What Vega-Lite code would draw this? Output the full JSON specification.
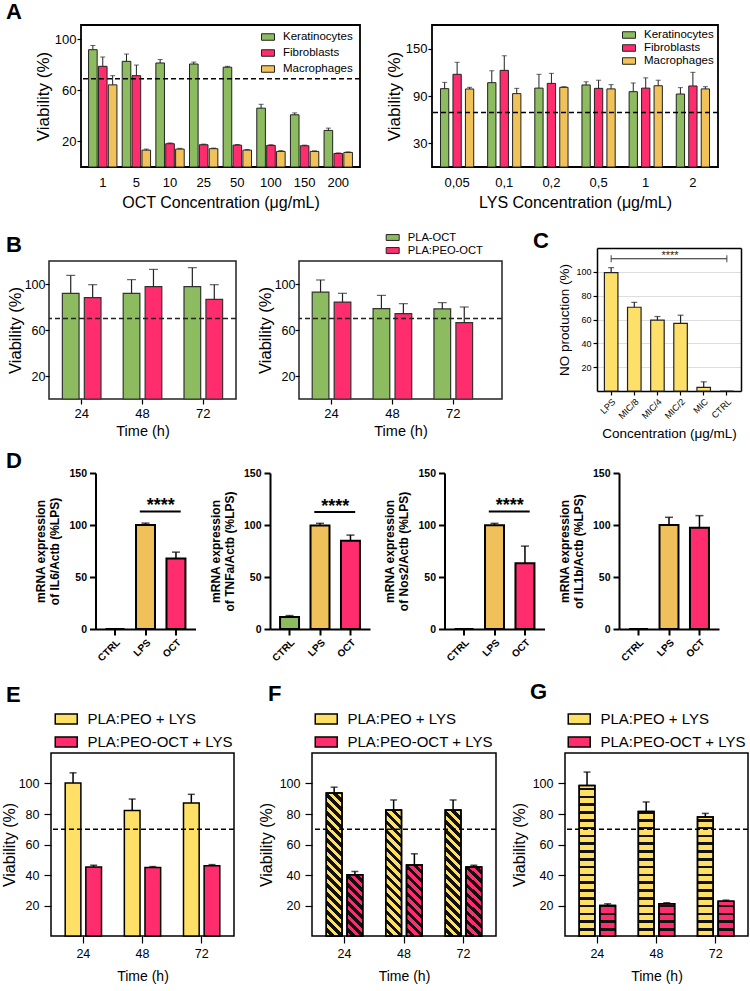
{
"$schema":"https://vega.github.io/schema/vega-lite/v6.json",
"background":"white",
"padding":{"left":0,"top":0,"right":0,"bottom":0},
"autosize":{"type":"pad"},
"spacing":0,
"resolve":{"scale":{"fill":"independent","xOffset":"independent"},"legend":{"fill":"independent"}},
"params":[
{"name":"stF","value":[{"offset":0,"color":"rgba(0,0,0,0)"},{"offset":0.028125,"color":"rgba(0,0,0,0)"},{"offset":0.028125,"color":"#111111"},{"offset":0.05625,"color":"#111111"},{"offset":0.05625,"color":"rgba(0,0,0,0)"},{"offset":0.084375,"color":"rgba(0,0,0,0)"},{"offset":0.084375,"color":"#111111"},{"offset":0.1125,"color":"#111111"},{"offset":0.1125,"color":"rgba(0,0,0,0)"},{"offset":0.140625,"color":"rgba(0,0,0,0)"},{"offset":0.140625,"color":"#111111"},{"offset":0.16875,"color":"#111111"},{"offset":0.16875,"color":"rgba(0,0,0,0)"},{"offset":0.196875,"color":"rgba(0,0,0,0)"},{"offset":0.196875,"color":"#111111"},{"offset":0.225,"color":"#111111"},{"offset":0.225,"color":"rgba(0,0,0,0)"},{"offset":0.253125,"color":"rgba(0,0,0,0)"},{"offset":0.253125,"color":"#111111"},{"offset":0.28125,"color":"#111111"},{"offset":0.28125,"color":"rgba(0,0,0,0)"},{"offset":0.309375,"color":"rgba(0,0,0,0)"},{"offset":0.309375,"color":"#111111"},{"offset":0.3375,"color":"#111111"},{"offset":0.3375,"color":"rgba(0,0,0,0)"},{"offset":0.365625,"color":"rgba(0,0,0,0)"},{"offset":0.365625,"color":"#111111"},{"offset":0.39375,"color":"#111111"},{"offset":0.39375,"color":"rgba(0,0,0,0)"},{"offset":0.421875,"color":"rgba(0,0,0,0)"},{"offset":0.421875,"color":"#111111"},{"offset":0.45,"color":"#111111"},{"offset":0.45,"color":"rgba(0,0,0,0)"},{"offset":0.478125,"color":"rgba(0,0,0,0)"},{"offset":0.478125,"color":"#111111"},{"offset":0.50625,"color":"#111111"},{"offset":0.50625,"color":"rgba(0,0,0,0)"},{"offset":0.534375,"color":"rgba(0,0,0,0)"},{"offset":0.534375,"color":"#111111"},{"offset":0.5625,"color":"#111111"},{"offset":0.5625,"color":"rgba(0,0,0,0)"},{"offset":0.590625,"color":"rgba(0,0,0,0)"},{"offset":0.590625,"color":"#111111"},{"offset":0.61875,"color":"#111111"},{"offset":0.61875,"color":"rgba(0,0,0,0)"},{"offset":0.646875,"color":"rgba(0,0,0,0)"},{"offset":0.646875,"color":"#111111"},{"offset":0.675,"color":"#111111"},{"offset":0.675,"color":"rgba(0,0,0,0)"},{"offset":0.703125,"color":"rgba(0,0,0,0)"},{"offset":0.703125,"color":"#111111"},{"offset":0.73125,"color":"#111111"},{"offset":0.73125,"color":"rgba(0,0,0,0)"},{"offset":0.759375,"color":"rgba(0,0,0,0)"},{"offset":0.759375,"color":"#111111"},{"offset":0.7875,"color":"#111111"},{"offset":0.7875,"color":"rgba(0,0,0,0)"},{"offset":0.815625,"color":"rgba(0,0,0,0)"},{"offset":0.815625,"color":"#111111"},{"offset":0.84375,"color":"#111111"},{"offset":0.84375,"color":"rgba(0,0,0,0)"},{"offset":0.871875,"color":"rgba(0,0,0,0)"},{"offset":0.871875,"color":"#111111"},{"offset":0.9,"color":"#111111"},{"offset":0.9,"color":"rgba(0,0,0,0)"},{"offset":0.928125,"color":"rgba(0,0,0,0)"},{"offset":0.928125,"color":"#111111"},{"offset":0.95625,"color":"#111111"},{"offset":0.95625,"color":"rgba(0,0,0,0)"},{"offset":0.984375,"color":"rgba(0,0,0,0)"},{"offset":0.984375,"color":"#111111"},{"offset":1,"color":"#111111"}]},
{"name":"stG","value":[{"offset":0,"color":"rgba(0,0,0,0)"},{"offset":0.0325,"color":"rgba(0,0,0,0)"},{"offset":0.0325,"color":"#111111"},{"offset":0.04875,"color":"#111111"},{"offset":0.04875,"color":"rgba(0,0,0,0)"},{"offset":0.08125,"color":"rgba(0,0,0,0)"},{"offset":0.08125,"color":"#111111"},{"offset":0.0975,"color":"#111111"},{"offset":0.0975,"color":"rgba(0,0,0,0)"},{"offset":0.13,"color":"rgba(0,0,0,0)"},{"offset":0.13,"color":"#111111"},{"offset":0.14625,"color":"#111111"},{"offset":0.14625,"color":"rgba(0,0,0,0)"},{"offset":0.17875,"color":"rgba(0,0,0,0)"},{"offset":0.17875,"color":"#111111"},{"offset":0.195,"color":"#111111"},{"offset":0.195,"color":"rgba(0,0,0,0)"},{"offset":0.2275,"color":"rgba(0,0,0,0)"},{"offset":0.2275,"color":"#111111"},{"offset":0.24375,"color":"#111111"},{"offset":0.24375,"color":"rgba(0,0,0,0)"},{"offset":0.27625,"color":"rgba(0,0,0,0)"},{"offset":0.27625,"color":"#111111"},{"offset":0.2925,"color":"#111111"},{"offset":0.2925,"color":"rgba(0,0,0,0)"},{"offset":0.325,"color":"rgba(0,0,0,0)"},{"offset":0.325,"color":"#111111"},{"offset":0.34125,"color":"#111111"},{"offset":0.34125,"color":"rgba(0,0,0,0)"},{"offset":0.37375,"color":"rgba(0,0,0,0)"},{"offset":0.37375,"color":"#111111"},{"offset":0.39,"color":"#111111"},{"offset":0.39,"color":"rgba(0,0,0,0)"},{"offset":0.4225,"color":"rgba(0,0,0,0)"},{"offset":0.4225,"color":"#111111"},{"offset":0.43875,"color":"#111111"},{"offset":0.43875,"color":"rgba(0,0,0,0)"},{"offset":0.47125,"color":"rgba(0,0,0,0)"},{"offset":0.47125,"color":"#111111"},{"offset":0.4875,"color":"#111111"},{"offset":0.4875,"color":"rgba(0,0,0,0)"},{"offset":0.52,"color":"rgba(0,0,0,0)"},{"offset":0.52,"color":"#111111"},{"offset":0.53625,"color":"#111111"},{"offset":0.53625,"color":"rgba(0,0,0,0)"},{"offset":0.56875,"color":"rgba(0,0,0,0)"},{"offset":0.56875,"color":"#111111"},{"offset":0.585,"color":"#111111"},{"offset":0.585,"color":"rgba(0,0,0,0)"},{"offset":0.6175,"color":"rgba(0,0,0,0)"},{"offset":0.6175,"color":"#111111"},{"offset":0.63375,"color":"#111111"},{"offset":0.63375,"color":"rgba(0,0,0,0)"},{"offset":0.66625,"color":"rgba(0,0,0,0)"},{"offset":0.66625,"color":"#111111"},{"offset":0.6825,"color":"#111111"},{"offset":0.6825,"color":"rgba(0,0,0,0)"},{"offset":0.715,"color":"rgba(0,0,0,0)"},{"offset":0.715,"color":"#111111"},{"offset":0.73125,"color":"#111111"},{"offset":0.73125,"color":"rgba(0,0,0,0)"},{"offset":0.76375,"color":"rgba(0,0,0,0)"},{"offset":0.76375,"color":"#111111"},{"offset":0.78,"color":"#111111"},{"offset":0.78,"color":"rgba(0,0,0,0)"},{"offset":0.8125,"color":"rgba(0,0,0,0)"},{"offset":0.8125,"color":"#111111"},{"offset":0.82875,"color":"#111111"},{"offset":0.82875,"color":"rgba(0,0,0,0)"},{"offset":0.86125,"color":"rgba(0,0,0,0)"},{"offset":0.86125,"color":"#111111"},{"offset":0.8775,"color":"#111111"},{"offset":0.8775,"color":"rgba(0,0,0,0)"},{"offset":0.91,"color":"rgba(0,0,0,0)"},{"offset":0.91,"color":"#111111"},{"offset":0.92625,"color":"#111111"},{"offset":0.92625,"color":"rgba(0,0,0,0)"},{"offset":0.95875,"color":"rgba(0,0,0,0)"},{"offset":0.95875,"color":"#111111"},{"offset":0.975,"color":"#111111"},{"offset":0.975,"color":"rgba(0,0,0,0)"},{"offset":1,"color":"rgba(0,0,0,0)"}]}
],
"datasets":{
"aoct":[
{"c":"1","cell":"Keratinocytes","v":91.7,"hi":95},{"c":"1","cell":"Fibroblasts","v":78.7,"hi":86},{"c":"1","cell":"Macrophages","v":64.2,"hi":71.4},
{"c":"5","cell":"Keratinocytes","v":82.6,"hi":88.3},{"c":"5","cell":"Fibroblasts","v":71.4,"hi":79.7},{"c":"5","cell":"Macrophages","v":13.2,"hi":14},
{"c":"10","cell":"Keratinocytes","v":81.3,"hi":84},{"c":"10","cell":"Fibroblasts","v":18.2,"hi":18.8},{"c":"10","cell":"Macrophages","v":14,"hi":14.6},
{"c":"25","cell":"Keratinocytes","v":80.5,"hi":82},{"c":"25","cell":"Fibroblasts","v":17.4,"hi":17.9},{"c":"25","cell":"Macrophages","v":14.3,"hi":14.8},
{"c":"50","cell":"Keratinocytes","v":78,"hi":78.7},{"c":"50","cell":"Fibroblasts","v":17.1,"hi":17.6},{"c":"50","cell":"Macrophages","v":13.2,"hi":13.7},
{"c":"100","cell":"Keratinocytes","v":46,"hi":49},{"c":"100","cell":"Fibroblasts","v":16.9,"hi":17.4},{"c":"100","cell":"Macrophages","v":12.2,"hi":12.8},
{"c":"150","cell":"Keratinocytes","v":40.8,"hi":42.3},{"c":"150","cell":"Fibroblasts","v":16.6,"hi":17.1},{"c":"150","cell":"Macrophages","v":12.2,"hi":12.6},
{"c":"200","cell":"Keratinocytes","v":28.6,"hi":30.4},{"c":"200","cell":"Fibroblasts","v":10.6,"hi":11},{"c":"200","cell":"Macrophages","v":11.4,"hi":11.8}],
"alys":[
{"c":"0,05","cell":"Keratinocytes","v":99.3,"hi":107.3},{"c":"0,05","cell":"Fibroblasts","v":117.5,"hi":132.7},{"c":"0,05","cell":"Macrophages","v":98.9,"hi":101},
{"c":"0,1","cell":"Keratinocytes","v":106.9,"hi":122},{"c":"0,1","cell":"Fibroblasts","v":122.5,"hi":141},{"c":"0,1","cell":"Macrophages","v":93,"hi":99.7},
{"c":"0,2","cell":"Keratinocytes","v":100,"hi":117.5},{"c":"0,2","cell":"Fibroblasts","v":106,"hi":118.7},{"c":"0,2","cell":"Macrophages","v":101,"hi":101.8},
{"c":"0,5","cell":"Keratinocytes","v":104,"hi":108},{"c":"0,5","cell":"Fibroblasts","v":99.7,"hi":110},{"c":"0,5","cell":"Macrophages","v":99,"hi":104.4},
{"c":"1","cell":"Keratinocytes","v":95.5,"hi":106.5},{"c":"1","cell":"Fibroblasts","v":100,"hi":113},{"c":"1","cell":"Macrophages","v":103,"hi":110},
{"c":"2","cell":"Keratinocytes","v":92.5,"hi":100.6},{"c":"2","cell":"Fibroblasts","v":102.7,"hi":120},{"c":"2","cell":"Macrophages","v":99,"hi":101.8}],
"b1":[
{"t":"24","s":"PLA-OCT","v":91.9,"hi":107.5},{"t":"24","s":"PLA:PEO-OCT","v":88.2,"hi":99.4},
{"t":"48","s":"PLA-OCT","v":91.9,"hi":103.8},{"t":"48","s":"PLA:PEO-OCT","v":97.7,"hi":112.7},
{"t":"72","s":"PLA-OCT","v":97.7,"hi":114.2},{"t":"72","s":"PLA:PEO-OCT","v":86.7,"hi":99.4}],
"b2":[
{"t":"24","s":"PLA-OCT","v":93,"hi":103.5},{"t":"24","s":"PLA:PEO-OCT","v":84.3,"hi":91.9},
{"t":"48","s":"PLA-OCT","v":78.6,"hi":90.1},{"t":"48","s":"PLA:PEO-OCT","v":74.2,"hi":82.9},
{"t":"72","s":"PLA-OCT","v":78.3,"hi":83.8},{"t":"72","s":"PLA:PEO-OCT","v":66.4,"hi":80}],
"c":[
{"g":"LPS","v":99.4,"hi":103.5},{"g":"MIC/8","v":70.3,"hi":74.4},{"g":"MIC/4","v":59.4,"hi":62.5},
{"g":"MIC/2","v":56.7,"hi":63.6},{"g":"MIC","v":3.1,"hi":7.7},{"g":"CTRL","v":0,"hi":null}],
"csig":[{"a":"LPS","b":"CTRL","y":111,"label":"****"}],
"ccap":[{"g":"LPS","y":111},{"g":"CTRL","y":111}],
"d":[
{"p":"IL6","g":"CTRL","v":0,"hi":null},{"p":"IL6","g":"LPS","v":100,"hi":101.8},{"p":"IL6","g":"OCT","v":67.7,"hi":73.9},
{"p":"TNFa","g":"CTRL","v":11.6,"hi":12.9},{"p":"TNFa","g":"LPS","v":99.6,"hi":101.6},{"p":"TNFa","g":"OCT","v":84.8,"hi":90.3},
{"p":"Nos2","g":"CTRL","v":0,"hi":null},{"p":"Nos2","g":"LPS","v":99.7,"hi":101.6},{"p":"Nos2","g":"OCT","v":63.2,"hi":79.7},
{"p":"IL1b","g":"CTRL","v":0,"hi":null},{"p":"IL1b","g":"LPS","v":100,"hi":107.4},{"p":"IL1b","g":"OCT","v":97.4,"hi":109}],
"dsig":[
{"p":"IL6","a":"LPS","b":"OCT","y":113,"label":"****"},
{"p":"TNFa","a":"LPS","b":"OCT","y":112.5,"label":"****"},
{"p":"Nos2","a":"LPS","b":"OCT","y":113,"label":"****"}],
"e":[
{"t":"24","s":"PLA:PEO + LYS","v":100.4,"hi":107},{"t":"24","s":"PLA:PEO-OCT + LYS","v":45.3,"hi":46.4},
{"t":"48","s":"PLA:PEO + LYS","v":82.3,"hi":89.8},{"t":"48","s":"PLA:PEO-OCT + LYS","v":44.9,"hi":45.5},
{"t":"72","s":"PLA:PEO + LYS","v":87.2,"hi":92.9},{"t":"72","s":"PLA:PEO-OCT + LYS","v":46,"hi":46.8}],
"f":[
{"t":"24","s":"PLA:PEO + LYS","v":93.7,"hi":97.6},{"t":"24","s":"PLA:PEO-OCT + LYS","v":40.1,"hi":42.3},
{"t":"48","s":"PLA:PEO + LYS","v":82.7,"hi":89.2},{"t":"48","s":"PLA:PEO-OCT + LYS","v":46.6,"hi":53.9},
{"t":"72","s":"PLA:PEO + LYS","v":82.7,"hi":89.2},{"t":"72","s":"PLA:PEO-OCT + LYS","v":45.3,"hi":46.4}],
"g":[
{"t":"24","s":"PLA:PEO + LYS","v":98.7,"hi":107.5},{"t":"24","s":"PLA:PEO-OCT + LYS","v":20,"hi":21.1},
{"t":"48","s":"PLA:PEO + LYS","v":81.7,"hi":87.9},{"t":"48","s":"PLA:PEO-OCT + LYS","v":21.1,"hi":21.8},
{"t":"72","s":"PLA:PEO + LYS","v":78,"hi":80.4},{"t":"72","s":"PLA:PEO-OCT + LYS","v":22.8,"hi":23.5}]
},
"config":{
"font":"Liberation Sans",
"view":{"stroke":"black","strokeWidth":1.5},
"axis":{"grid":false,"domain":false,"labelColor":"black","titleColor":"black","tickColor":"black","domainColor":"black","titleFontWeight":"normal","labelFont":"Liberation Sans","titleFont":"Liberation Sans","tickWidth":1.2,"labelOverlap":false},
"legend":{"labelColor":"black","labelFont":"Liberation Sans","padding":0,"labelLimit":300},
"title":{"color":"black","font":"Liberation Sans","fontWeight":"bold","fontSize":22,"anchor":"start","frame":"group","baseline":"alphabetic"}
},
"vconcat":[
{"bounds":"flush","spacing":72,"resolve":{"scale":{"fill":"independent","xOffset":"independent"},"legend":{"fill":"independent"}},"hconcat":[
 {"width":3,"height":203.5,"view":{"stroke":null},"data":{"values":[{}]},"mark":{"type":"point","opacity":0},"title":{"text":"A","offset":1.5}},
 {"width":279,"height":142,"view":{"stroke":"black","strokeWidth":1.8},"data":{"name":"aoct"},
  "layer":[
   {"mark":{"type":"bar","stroke":"#222","strokeWidth":1},
    "encoding":{
     "x":{"field":"c","type":"nominal","scale":{"domain":["1","5","10","25","50","100","150","200"],"paddingInner":0.157,"paddingOuter":0.225},"axis":{"title":"OCT Concentration (μg/mL)","labelAngle":0,"ticks":false,"labelFontSize":13,"labelPadding":9,"titleFontSize":16,"titlePadding":5}},
     "xOffset":{"field":"cell","type":"nominal","scale":{"domain":["Keratinocytes","Fibroblasts","Macrophages"],"paddingInner":0.13,"paddingOuter":0}},
     "y":{"field":"v","type":"quantitative","scale":{"domain":[0,111],"nice":false},"axis":{"title":"Viability (%)","values":[20,40,60,80,100],"labelFontSize":13,"titleFontSize":17,"tickSize":4,"labelPadding":1,"titlePadding":2}},
     "fill":{"field":"cell","type":"nominal","scale":{"domain":["Keratinocytes","Fibroblasts","Macrophages"],"range":["#8DBB5F","#FF2D6E","#F2C25A"]},"legend":{"orient":"none","legendX":180,"legendY":5,"title":null,"symbolType":"M-1,-0.5H1V0.5H-1Z","symbolSize":169,"symbolStrokeColor":"#222","symbolStrokeWidth":1,"labelFontSize":11.5,"labelOffset":8,"rowPadding":3}}}},
   {"mark":{"type":"rule","color":"#222","strokeWidth":1},"encoding":{"x":{"field":"c","type":"nominal"},"xOffset":{"field":"cell","type":"nominal"},"y":{"field":"v","type":"quantitative"},"y2":{"field":"hi"}}},
   {"mark":{"type":"tick","orient":"horizontal","color":"#222","size":5,"thickness":1},"encoding":{"x":{"field":"c","type":"nominal"},"xOffset":{"field":"cell","type":"nominal"},"y":{"field":"hi","type":"quantitative"}}},
   {"data":{"values":[{}]},"mark":{"type":"rule","color":"black","strokeWidth":1.5,"strokeDash":[5,3]},"encoding":{"y":{"datum":69}}}
  ]},
 {"width":286,"height":142,"view":{"stroke":"black","strokeWidth":1.8},"data":{"name":"alys"},
  "layer":[
   {"mark":{"type":"bar","stroke":"#222","strokeWidth":1},
    "encoding":{
     "x":{"field":"c","type":"nominal","scale":{"domain":["0,05","0,1","0,2","0,5","1","2"],"paddingInner":0.295,"paddingOuter":0.18},"axis":{"title":"LYS Concentration (μg/mL)","labelAngle":0,"ticks":false,"labelFontSize":13,"labelPadding":9,"titleFontSize":16,"titlePadding":5}},
     "xOffset":{"field":"cell","type":"nominal","scale":{"domain":["Keratinocytes","Fibroblasts","Macrophages"],"paddingInner":0.336,"paddingOuter":0}},
     "y":{"field":"v","type":"quantitative","scale":{"domain":[0,180],"nice":false},"axis":{"title":"Viability (%)","values":[30,60,90,120,150],"labelFontSize":13,"titleFontSize":17,"tickSize":4,"labelPadding":1,"titlePadding":2}},
     "fill":{"field":"cell","type":"nominal","scale":{"domain":["Keratinocytes","Fibroblasts","Macrophages"],"range":["#8DBB5F","#FF2D6E","#F2C25A"]},"legend":{"orient":"none","legendX":190,"legendY":3,"title":null,"symbolType":"M-1,-0.5H1V0.5H-1Z","symbolSize":169,"symbolStrokeColor":"#222","symbolStrokeWidth":1,"labelFontSize":11.5,"labelOffset":8,"rowPadding":0}}}},
   {"mark":{"type":"rule","color":"#222","strokeWidth":1},"encoding":{"x":{"field":"c","type":"nominal"},"xOffset":{"field":"cell","type":"nominal"},"y":{"field":"v","type":"quantitative"},"y2":{"field":"hi"}}},
   {"mark":{"type":"tick","orient":"horizontal","color":"#222","size":5,"thickness":1},"encoding":{"x":{"field":"c","type":"nominal"},"xOffset":{"field":"cell","type":"nominal"},"y":{"field":"hi","type":"quantitative"}}},
   {"data":{"values":[{}]},"mark":{"type":"rule","color":"black","strokeWidth":1.5,"strokeDash":[5,3]},"encoding":{"y":{"datum":69}}}
  ]}
]},
{"bounds":"flush","spacing":31,"resolve":{"scale":{"fill":"independent","xOffset":"independent"},"legend":{"fill":"independent"}},"hconcat":[
 {"width":12,"height":188.5,"view":{"stroke":null},"data":{"values":[{}]},"mark":{"type":"point","opacity":0},"title":{"text":"B","offset":4}},
 {"width":187,"height":138,"view":{"stroke":"#222","strokeWidth":1.5},"data":{"name":"b1"},
  "layer":[
   {"mark":{"type":"bar","stroke":"#333","strokeWidth":1.2},
    "encoding":{
     "x":{"field":"t","type":"nominal","scale":{"domain":["24","48","72"],"paddingInner":0.365,"paddingOuter":0.22},"axis":{"title":"Time (h)","labelAngle":0,"labelFontSize":13,"titleFontSize":14.5,"tickSize":5,"labelPadding":3,"titlePadding":4}},
     "xOffset":{"field":"s","type":"nominal","scale":{"domain":["PLA-OCT","PLA:PEO-OCT"],"paddingInner":0.24,"paddingOuter":0}},
     "y":{"field":"v","type":"quantitative","scale":{"domain":[0,120],"nice":false},"axis":{"title":"Viability (%)","values":[20,40,60,80,100],"labelFontSize":12.5,"titleFontSize":16.5,"tickSize":4,"labelPadding":0,"titlePadding":1}},
     "fill":{"field":"s","type":"nominal","scale":{"domain":["PLA-OCT","PLA:PEO-OCT"],"range":["#8DBB5F","#FF2D6E"]},"legend":null}}},
   {"mark":{"type":"rule","color":"#222","strokeWidth":1.2},"encoding":{"x":{"field":"t","type":"nominal"},"xOffset":{"field":"s","type":"nominal"},"y":{"field":"v","type":"quantitative"},"y2":{"field":"hi"}}},
   {"mark":{"type":"tick","orient":"horizontal","color":"#222","size":9,"thickness":1.2},"encoding":{"x":{"field":"t","type":"nominal"},"xOffset":{"field":"s","type":"nominal"},"y":{"field":"hi","type":"quantitative"}}},
   {"data":{"values":[{}]},"mark":{"type":"rule","color":"#222","strokeWidth":1.5,"strokeDash":[5,3]},"encoding":{"y":{"datum":70}}}
  ]},
 {"width":1,"height":1,"view":{"stroke":null},"data":{"values":[{}]},"mark":{"type":"point","opacity":0}},
 {"width":203,"height":138,"view":{"stroke":"#222","strokeWidth":1.5},"data":{"name":"b2"},
  "layer":[
   {"mark":{"type":"bar","stroke":"#333","strokeWidth":1.2},
    "encoding":{
     "x":{"field":"t","type":"nominal","scale":{"domain":["24","48","72"],"paddingInner":0.365,"paddingOuter":0.35,"align":0.31},"axis":{"title":"Time (h)","labelAngle":0,"labelFontSize":13,"titleFontSize":14.5,"tickSize":5,"labelPadding":3,"titlePadding":4}},
     "xOffset":{"field":"s","type":"nominal","scale":{"domain":["PLA-OCT","PLA:PEO-OCT"],"paddingInner":0.24,"paddingOuter":0}},
     "y":{"field":"v","type":"quantitative","scale":{"domain":[0,120],"nice":false},"axis":{"title":"Viability (%)","values":[20,40,60,80,100],"labelFontSize":12.5,"titleFontSize":16.5,"tickSize":4,"labelPadding":0,"titlePadding":1}},
     "fill":{"field":"s","type":"nominal","scale":{"domain":["PLA-OCT","PLA:PEO-OCT"],"range":["#8DBB5F","#FF2D6E"]},"legend":{"orient":"none","legendX":86.7,"legendY":-30.5,"title":null,"symbolType":"M-1,-0.45H1V0.45H-1Z","symbolSize":169,"symbolStrokeColor":"#222","symbolStrokeWidth":1,"labelFontSize":11.2,"labelOffset":8,"rowPadding":0}}}},
   {"mark":{"type":"rule","color":"#222","strokeWidth":1.2},"encoding":{"x":{"field":"t","type":"nominal"},"xOffset":{"field":"s","type":"nominal"},"y":{"field":"v","type":"quantitative"},"y2":{"field":"hi"}}},
   {"mark":{"type":"tick","orient":"horizontal","color":"#222","size":9,"thickness":1.2},"encoding":{"x":{"field":"t","type":"nominal"},"xOffset":{"field":"s","type":"nominal"},"y":{"field":"hi","type":"quantitative"}}},
   {"data":{"values":[{}]},"mark":{"type":"rule","color":"#222","strokeWidth":1.5,"strokeDash":[5,3]},"encoding":{"y":{"datum":70}}}
  ]},
 {"width":33,"height":1,"view":{"stroke":null},"data":{"values":[{}]},"mark":{"type":"point","opacity":0},"title":{"text":"C","offset":6}},
 {"width":144,"height":130,"view":{"stroke":null},"data":{"name":"c"},
  "resolve":{"axis":{"x":"independent","y":"independent"}},
  "layer":[
   {"mark":{"type":"bar","fill":"#FDE06A","stroke":"#222","strokeWidth":1.2},
    "encoding":{
     "x":{"field":"g","type":"nominal","scale":{"domain":["LPS","MIC/8","MIC/4","MIC/2","MIC","CTRL"],"paddingInner":0.415,"paddingOuter":0.32},"axis":{"title":"Concentration (μg/mL)","labelAngle":-45,"labelFontSize":9,"titleFontSize":13.5,"domain":true,"domainWidth":1.5,"tickSize":4,"labelPadding":2,"titlePadding":6}},
     "y":{"field":"v","type":"quantitative","scale":{"domain":[0,120],"nice":false,"range":[130,-13]},"axis":{"title":"NO production (%)","values":[20,40,60,80,100],"grid":true,"gridColor":"#dddddd","domain":true,"domainWidth":1.5,"labelFontSize":9,"titleFontSize":13.5,"tickSize":4,"labelPadding":2,"titlePadding":4}}}},
   {"mark":{"type":"rule","color":"#222","strokeWidth":1.2},
    "encoding":{
     "x":{"field":"g","type":"nominal","axis":{"orient":"top","labels":false,"ticks":false,"domain":true,"domainWidth":1.5,"offset":13,"title":null}},
     "y":{"field":"v","type":"quantitative","axis":{"orient":"right","labels":false,"ticks":false,"domain":true,"domainWidth":1.5,"title":null,"grid":false}},
     "y2":{"field":"hi"}}},
   {"mark":{"type":"tick","orient":"horizontal","color":"#222","size":6,"thickness":1.2},"encoding":{"x":{"field":"g","type":"nominal","axis":null},"y":{"field":"hi","type":"quantitative","axis":null}}},
   {"data":{"name":"csig"},"mark":{"type":"rule","color":"#222","strokeWidth":1.2},"encoding":{"x":{"field":"a","type":"nominal","axis":null},"x2":{"field":"b"},"y":{"field":"y","type":"quantitative","axis":null}}},
   {"data":{"name":"ccap"},"mark":{"type":"tick","orient":"vertical","color":"#222","size":7,"thickness":1.2},"encoding":{"x":{"field":"g","type":"nominal","axis":null},"y":{"field":"y","type":"quantitative","axis":null}}},
   {"data":{"name":"csig"},"mark":{"type":"text","fontSize":11,"color":"#222","baseline":"alphabetic"},"encoding":{"x":{"field":"a","type":"nominal","axis":null,"bandPosition":4.85},"y":{"field":"y","type":"quantitative","axis":null},"text":{"field":"label"}}}
  ]}
]},
{"bounds":"flush","spacing":74.5,"resolve":{"scale":{"fill":"independent","xOffset":"independent"},"legend":{"fill":"independent"}},"hconcat":[
 {"width":14.5,"height":207.5,"view":{"stroke":null},"data":{"values":[{}]},"mark":{"type":"point","opacity":0},"title":{"text":"D","offset":0}},
 {"width":100,"height":156,"view":{"stroke":null},"data":{"name":"d"},"transform":[{"filter":"datum.p == 'IL6'"}],
  "layer":[
   {"mark":{"type":"bar","stroke":"black","strokeWidth":2},
    "encoding":{
     "x":{"field":"g","type":"nominal","scale":{"domain":["CTRL","LPS","OCT"],"paddingInner":0.377,"paddingOuter":0.33},"axis":{"title":null,"labelAngle":-45,"labelFontSize":10,"labelFontWeight":"bold","domain":true,"domainWidth":2,"tickWidth":2,"tickSize":6,"labelPadding":2}},
     "y":{"field":"v","type":"quantitative","scale":{"domain":[0,150],"nice":false},"axis":{"title":["mRNA expression","of IL6/Actb (%LPS)"],"titleFontWeight":"bold","titleFontSize":12,"titleLineHeight":14,"values":[0,50,100,150],"labelFontWeight":"bold","labelFontSize":10.5,"domain":true,"domainWidth":2,"tickWidth":2,"tickSize":6,"labelPadding":3,"titlePadding":7}},
     "fill":{"field":"g","type":"nominal","scale":{"domain":["CTRL","LPS","OCT"],"range":["#8DBB5F","#F0C05A","#FF2D6E"]},"legend":null}}},
   {"mark":{"type":"rule","color":"black","strokeWidth":1.5},"encoding":{"x":{"field":"g","type":"nominal"},"y":{"field":"v","type":"quantitative"},"y2":{"field":"hi"}}},
   {"mark":{"type":"tick","orient":"horizontal","color":"black","size":8,"thickness":1.5},"encoding":{"x":{"field":"g","type":"nominal"},"y":{"field":"hi","type":"quantitative"}}},
   {"data":{"name":"dsig"},"transform":[{"filter":"datum.p == 'IL6'"}],"mark":{"type":"rule","color":"black","strokeWidth":1.8},"encoding":{"x":{"field":"a","type":"nominal","bandPosition":0.2},"x2":{"field":"b","bandPosition":0.75},"y":{"field":"y","type":"quantitative"}}},
   {"data":{"name":"dsig"},"transform":[{"filter":"datum.p == 'IL6'"}],"mark":{"type":"text","fontSize":18,"fontWeight":"bold","color":"black","baseline":"alphabetic"},"encoding":{"x":{"field":"a","type":"nominal","bandPosition":1.3},"y":{"field":"y","type":"quantitative"},"text":{"field":"label"}}}
  ]},
 {"width":100,"height":156,"view":{"stroke":null},"data":{"name":"d"},"transform":[{"filter":"datum.p == 'TNFa'"}],
  "layer":[
   {"mark":{"type":"bar","stroke":"black","strokeWidth":2},
    "encoding":{
     "x":{"field":"g","type":"nominal","scale":{"domain":["CTRL","LPS","OCT"],"paddingInner":0.377,"paddingOuter":0.33},"axis":{"title":null,"labelAngle":-45,"labelFontSize":10,"labelFontWeight":"bold","domain":true,"domainWidth":2,"tickWidth":2,"tickSize":6,"labelPadding":2}},
     "y":{"field":"v","type":"quantitative","scale":{"domain":[0,150],"nice":false},"axis":{"title":["mRNA expression","of TNFa/Actb (%LPS)"],"titleFontWeight":"bold","titleFontSize":12,"titleLineHeight":14,"values":[0,50,100,150],"labelFontWeight":"bold","labelFontSize":10.5,"domain":true,"domainWidth":2,"tickWidth":2,"tickSize":6,"labelPadding":3,"titlePadding":7}},
     "fill":{"field":"g","type":"nominal","scale":{"domain":["CTRL","LPS","OCT"],"range":["#8DBB5F","#F0C05A","#FF2D6E"]},"legend":null}}},
   {"mark":{"type":"rule","color":"black","strokeWidth":1.5},"encoding":{"x":{"field":"g","type":"nominal"},"y":{"field":"v","type":"quantitative"},"y2":{"field":"hi"}}},
   {"mark":{"type":"tick","orient":"horizontal","color":"black","size":8,"thickness":1.5},"encoding":{"x":{"field":"g","type":"nominal"},"y":{"field":"hi","type":"quantitative"}}},
   {"data":{"name":"dsig"},"transform":[{"filter":"datum.p == 'TNFa'"}],"mark":{"type":"rule","color":"black","strokeWidth":1.8},"encoding":{"x":{"field":"a","type":"nominal","bandPosition":0.2},"x2":{"field":"b","bandPosition":0.75},"y":{"field":"y","type":"quantitative"}}},
   {"data":{"name":"dsig"},"transform":[{"filter":"datum.p == 'TNFa'"}],"mark":{"type":"text","fontSize":18,"fontWeight":"bold","color":"black","baseline":"alphabetic"},"encoding":{"x":{"field":"a","type":"nominal","bandPosition":1.3},"y":{"field":"y","type":"quantitative"},"text":{"field":"label"}}}
  ]},
 {"width":100,"height":156,"view":{"stroke":null},"data":{"name":"d"},"transform":[{"filter":"datum.p == 'Nos2'"}],
  "layer":[
   {"mark":{"type":"bar","stroke":"black","strokeWidth":2},
    "encoding":{
     "x":{"field":"g","type":"nominal","scale":{"domain":["CTRL","LPS","OCT"],"paddingInner":0.377,"paddingOuter":0.33},"axis":{"title":null,"labelAngle":-45,"labelFontSize":10,"labelFontWeight":"bold","domain":true,"domainWidth":2,"tickWidth":2,"tickSize":6,"labelPadding":2}},
     "y":{"field":"v","type":"quantitative","scale":{"domain":[0,150],"nice":false},"axis":{"title":["mRNA expression","of Nos2/Actb (%LPS)"],"titleFontWeight":"bold","titleFontSize":12,"titleLineHeight":14,"values":[0,50,100,150],"labelFontWeight":"bold","labelFontSize":10.5,"domain":true,"domainWidth":2,"tickWidth":2,"tickSize":6,"labelPadding":3,"titlePadding":7}},
     "fill":{"field":"g","type":"nominal","scale":{"domain":["CTRL","LPS","OCT"],"range":["#8DBB5F","#F0C05A","#FF2D6E"]},"legend":null}}},
   {"mark":{"type":"rule","color":"black","strokeWidth":1.5},"encoding":{"x":{"field":"g","type":"nominal"},"y":{"field":"v","type":"quantitative"},"y2":{"field":"hi"}}},
   {"mark":{"type":"tick","orient":"horizontal","color":"black","size":8,"thickness":1.5},"encoding":{"x":{"field":"g","type":"nominal"},"y":{"field":"hi","type":"quantitative"}}},
   {"data":{"name":"dsig"},"transform":[{"filter":"datum.p == 'Nos2'"}],"mark":{"type":"rule","color":"black","strokeWidth":1.8},"encoding":{"x":{"field":"a","type":"nominal","bandPosition":0.2},"x2":{"field":"b","bandPosition":0.75},"y":{"field":"y","type":"quantitative"}}},
   {"data":{"name":"dsig"},"transform":[{"filter":"datum.p == 'Nos2'"}],"mark":{"type":"text","fontSize":18,"fontWeight":"bold","color":"black","baseline":"alphabetic"},"encoding":{"x":{"field":"a","type":"nominal","bandPosition":1.3},"y":{"field":"y","type":"quantitative"},"text":{"field":"label"}}}
  ]},
 {"width":100,"height":156,"view":{"stroke":null},"data":{"name":"d"},"transform":[{"filter":"datum.p == 'IL1b'"}],
  "layer":[
   {"mark":{"type":"bar","stroke":"black","strokeWidth":2},
    "encoding":{
     "x":{"field":"g","type":"nominal","scale":{"domain":["CTRL","LPS","OCT"],"paddingInner":0.377,"paddingOuter":0.33},"axis":{"title":null,"labelAngle":-45,"labelFontSize":10,"labelFontWeight":"bold","domain":true,"domainWidth":2,"tickWidth":2,"tickSize":6,"labelPadding":2}},
     "y":{"field":"v","type":"quantitative","scale":{"domain":[0,150],"nice":false},"axis":{"title":["mRNA expression","of IL1b/Actb (%LPS)"],"titleFontWeight":"bold","titleFontSize":12,"titleLineHeight":14,"values":[0,50,100,150],"labelFontWeight":"bold","labelFontSize":10.5,"domain":true,"domainWidth":2,"tickWidth":2,"tickSize":6,"labelPadding":3,"titlePadding":7}},
     "fill":{"field":"g","type":"nominal","scale":{"domain":["CTRL","LPS","OCT"],"range":["#8DBB5F","#F0C05A","#FF2D6E"]},"legend":null}}},
   {"mark":{"type":"rule","color":"black","strokeWidth":1.5},"encoding":{"x":{"field":"g","type":"nominal"},"y":{"field":"v","type":"quantitative"},"y2":{"field":"hi"}}},
   {"mark":{"type":"tick","orient":"horizontal","color":"black","size":8,"thickness":1.5},"encoding":{"x":{"field":"g","type":"nominal"},"y":{"field":"hi","type":"quantitative"}}}
  ]}
]},
{"bounds":"flush","spacing":34,"resolve":{"scale":{"fill":"independent","xOffset":"independent"},"legend":{"fill":"independent"}},"hconcat":[
 {"width":11,"height":183,"view":{"stroke":null},"data":{"values":[{}]},"mark":{"type":"point","opacity":0},"title":{"text":"E","offset":46}},
 {"width":183,"height":183,"view":{"stroke":"black","strokeWidth":1.5},"data":{"name":"e"},
  "layer":[
   {"mark":{"type":"bar","stroke":"black","strokeWidth":1.5},
    "encoding":{
     "x":{"field":"t","type":"nominal","scale":{"domain":["24","48","72"],"paddingInner":0.386,"paddingOuter":0.24},"axis":{"title":"Time (h)","labelAngle":0,"labelFontSize":12.5,"titleFontSize":14,"tickSize":7,"labelPadding":4,"titlePadding":10}},
     "xOffset":{"field":"s","type":"nominal","scale":{"domain":["PLA:PEO + LYS","PLA:PEO-OCT + LYS"],"paddingInner":0.24,"paddingOuter":0}},
     "y":{"field":"v","type":"quantitative","scale":{"domain":[0,120],"nice":false},"axis":{"title":"Viability (%)","values":[20,40,60,80,100],"labelFontSize":12.5,"titleFontSize":16,"tickSize":7,"labelPadding":5,"titlePadding":1}},
     "fill":{"field":"s","type":"nominal","scale":{"domain":["PLA:PEO + LYS","PLA:PEO-OCT + LYS"],"range":["#FFE066","#FF2D6E"]},"legend":{"orient":"none","legendX":7.75,"legendY":-41.5,"title":null,"symbolType":"M-2,-0.9H2V0.9H-2Z","symbolSize":121,"symbolStrokeColor":"black","symbolStrokeWidth":1.5,"labelFontSize":15,"labelOffset":13.75,"rowPadding":6}}}},
   {"mark":{"type":"rule","color":"black","strokeWidth":1.5},"encoding":{"x":{"field":"t","type":"nominal"},"xOffset":{"field":"s","type":"nominal"},"y":{"field":"v","type":"quantitative"},"y2":{"field":"hi"}}},
   {"mark":{"type":"tick","orient":"horizontal","color":"black","size":7,"thickness":1.5},"encoding":{"x":{"field":"t","type":"nominal"},"xOffset":{"field":"s","type":"nominal"},"y":{"field":"hi","type":"quantitative"}}},
   {"data":{"values":[{}]},"mark":{"type":"rule","color":"black","strokeWidth":1.5,"strokeDash":[5,3]},"encoding":{"y":{"datum":70}}}
  ]},
 {"width":10,"height":1,"view":{"stroke":null},"data":{"values":[{}]},"mark":{"type":"point","opacity":0},"title":{"text":"F","offset":44.5}},
 {"width":184,"height":183,"view":{"stroke":"black","strokeWidth":1.5},"data":{"name":"f"},
  "layer":[
   {"mark":{"type":"bar","stroke":"black","strokeWidth":1.5},
    "encoding":{
     "x":{"field":"t","type":"nominal","scale":{"domain":["24","48","72"],"paddingInner":0.386,"paddingOuter":0.24},"axis":{"title":"Time (h)","labelAngle":0,"labelFontSize":12.5,"titleFontSize":14,"tickSize":7,"labelPadding":4,"titlePadding":10}},
     "xOffset":{"field":"s","type":"nominal","scale":{"domain":["PLA:PEO + LYS","PLA:PEO-OCT + LYS"],"paddingInner":0.24,"paddingOuter":0}},
     "y":{"field":"v","type":"quantitative","scale":{"domain":[0,120],"nice":false},"axis":{"title":"Viability (%)","values":[20,40,60,80,100],"labelFontSize":12.5,"titleFontSize":16,"tickSize":7,"labelPadding":5,"titlePadding":5}},
     "fill":{"field":"s","type":"nominal","scale":{"domain":["PLA:PEO + LYS","PLA:PEO-OCT + LYS"],"range":["#FFE066","#FF2D6E"]},"legend":{"orient":"none","legendX":6.75,"legendY":-41.5,"title":null,"symbolType":"M-2,-0.9H2V0.9H-2Z","symbolSize":121,"symbolStrokeColor":"black","symbolStrokeWidth":1.5,"labelFontSize":15,"labelOffset":13.75,"rowPadding":6}}}},
   {"mark":{"type":"bar","stroke":"black","strokeWidth":1.5,"fill":{"expr":"{'gradient':'linear','x1':0,'y1':1,'x2':2508.8/(245.86+pow(1.525*datum.v,2)),'y2':1-244*datum.v/(245.86+pow(1.525*datum.v,2)),'stops':stF}"}},
    "encoding":{"x":{"field":"t","type":"nominal"},"xOffset":{"field":"s","type":"nominal"},"y":{"field":"v","type":"quantitative"}}},
   {"mark":{"type":"rule","color":"black","strokeWidth":1.5},"encoding":{"x":{"field":"t","type":"nominal"},"xOffset":{"field":"s","type":"nominal"},"y":{"field":"v","type":"quantitative"},"y2":{"field":"hi"}}},
   {"mark":{"type":"tick","orient":"horizontal","color":"black","size":7,"thickness":1.5},"encoding":{"x":{"field":"t","type":"nominal"},"xOffset":{"field":"s","type":"nominal"},"y":{"field":"hi","type":"quantitative"}}},
   {"data":{"values":[{}]},"mark":{"type":"rule","color":"black","strokeWidth":1.5,"strokeDash":[5,3]},"encoding":{"y":{"datum":70}}}
  ]},
 {"width":1,"height":1,"view":{"stroke":null},"data":{"values":[{}]},"mark":{"type":"point","opacity":0},"title":{"text":"G","offset":46.5}},
 {"width":183,"height":183,"view":{"stroke":"black","strokeWidth":1.5},"data":{"name":"g"},
  "layer":[
   {"mark":{"type":"bar","stroke":"black","strokeWidth":1.5},
    "encoding":{
     "x":{"field":"t","type":"nominal","scale":{"domain":["24","48","72"],"paddingInner":0.386,"paddingOuter":0.24},"axis":{"title":"Time (h)","labelAngle":0,"labelFontSize":12.5,"titleFontSize":14,"tickSize":7,"labelPadding":4,"titlePadding":10}},
     "xOffset":{"field":"s","type":"nominal","scale":{"domain":["PLA:PEO + LYS","PLA:PEO-OCT + LYS"],"paddingInner":0.24,"paddingOuter":0}},
     "y":{"field":"v","type":"quantitative","scale":{"domain":[0,120],"nice":false},"axis":{"title":"Viability (%)","values":[20,40,60,80,100],"labelFontSize":12.5,"titleFontSize":16,"tickSize":7,"labelPadding":5,"titlePadding":5}},
     "fill":{"field":"s","type":"nominal","scale":{"domain":["PLA:PEO + LYS","PLA:PEO-OCT + LYS"],"range":["#FFE066","#FF2D6E"]},"legend":{"orient":"none","legendX":6.75,"legendY":-41.5,"title":null,"symbolType":"M-2,-0.9H2V0.9H-2Z","symbolSize":121,"symbolStrokeColor":"black","symbolStrokeWidth":1.5,"labelFontSize":15,"labelOffset":13.75,"rowPadding":6}}}},
   {"mark":{"type":"bar","stroke":"black","strokeWidth":1.5,"fill":{"expr":"{'gradient':'linear','x1':0,'y1':1,'x2':0,'y2':1-160/(1.525*datum.v),'stops':stG}"}},
    "encoding":{"x":{"field":"t","type":"nominal"},"xOffset":{"field":"s","type":"nominal"},"y":{"field":"v","type":"quantitative"}}},
   {"mark":{"type":"rule","color":"black","strokeWidth":1.5},"encoding":{"x":{"field":"t","type":"nominal"},"xOffset":{"field":"s","type":"nominal"},"y":{"field":"v","type":"quantitative"},"y2":{"field":"hi"}}},
   {"mark":{"type":"tick","orient":"horizontal","color":"black","size":7,"thickness":1.5},"encoding":{"x":{"field":"t","type":"nominal"},"xOffset":{"field":"s","type":"nominal"},"y":{"field":"hi","type":"quantitative"}}},
   {"data":{"values":[{}]},"mark":{"type":"rule","color":"black","strokeWidth":1.5,"strokeDash":[5,3]},"encoding":{"y":{"datum":70}}}
  ]}
]}
]
}
